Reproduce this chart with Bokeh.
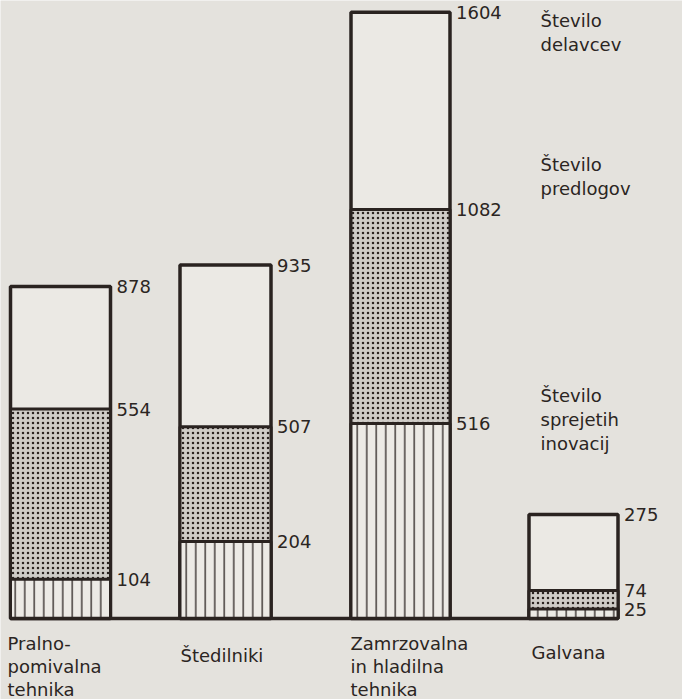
from bokeh.plotting import figure
from bokeh.models import Range1d, ColumnDataSource, Label
from bokeh.embed import file_html
from bokeh.resources import INLINE
from bokeh.core.properties import value

# ---- data ----
categories = ["Pralno-\npomivalna\ntehnika", "Štedilniki", "Zamrzovalna\nin hladilna\ntehnika", "Galvana"]
workers = [878, 935, 1604, 275]        # Število delavcev
proposals = [554, 507, 1082, 74]       # Število predlogov
innovations = [104, 204, 516, 25]      # Število sprejetih inovacij
legend_labels = ["Število\ndelavcev", "Število\npredlogov", "Število\nsprejetih\ninovacij"]

# ---- layout / style ----
W, H = 682, 699
bar_x = [60, 225, 400, 573]
bar_w = [100, 91, 99, 89]
BG = "#e4e2dd"
INK = "#2a2320"
TXT = "#2b2522"
FONT = "DejaVu Sans"
FS = "18px"

baseline_px = 81          # distance of the zero line from plot bottom
scale = 0.378             # px per unit
y0 = -baseline_px / scale
y1 = (H - baseline_px) / scale

p = figure(width=W, height=H, output_backend="svg", toolbar_location=None,
           x_range=Range1d(0, W), y_range=Range1d(y0, y1),
           min_border=0, background_fill_color=BG, border_fill_color=BG,
           outline_line_color=None)
p.axis.visible = False
p.grid.visible = False

right = [x + w / 2 for x, w in zip(bar_x, bar_w)]
src = ColumnDataSource(dict(x=bar_x, w=bar_w, workers=workers, proposals=proposals,
                            innovations=innovations, right=right))

p.vbar(x="x", width="w", top="workers", bottom=0, source=src,
       fill_color="#ebe9e4", line_color=INK, line_width=3.5)
p.vbar(x="x", width="w", top="proposals", bottom=0, source=src,
       fill_color="#cfccc7", hatch_pattern="dot", hatch_color=INK, hatch_scale=5,
       hatch_weight=4, line_color=INK, line_width=3)
p.vbar(x="x", width="w", top="innovations", bottom=0, source=src,
       fill_color="#eceae5", hatch_pattern="vertical_line", hatch_color=INK, hatch_scale=9.5,
       hatch_weight=1.3, line_color=INK, line_width=3)

# baseline
left_edge = bar_x[0] - bar_w[0] / 2
right_edge = bar_x[-1] + bar_w[-1] / 2
p.line([left_edge, right_edge], [0, 0], line_color=INK, line_width=3.5)

# value labels
for col in ["workers", "proposals", "innovations"]:
    p.text(x="right", y=col, text=col, source=ColumnDataSource(dict(
        right=right, **{col: src.data[col]},
    )), x_offset=6, text_baseline="middle", text_align="left",
        text_font=value(FONT), text_font_size=FS, text_color=TXT)

def add_lines(text, sx, top_img_y, step):
    for i, line in enumerate(text.split("\n")):
        iy = top_img_y + i * step
        p.add_layout(Label(x=sx, y=H - iy, x_units="screen", y_units="screen",
                           text=line, text_baseline="middle", text_align="left",
                           text_font=FONT, text_font_size=FS, text_color=TXT))

# category labels
cat_pos = [(7, 643), (180, 655), (350, 643), (531, 652)]
for c, (sx, iy) in zip(categories, cat_pos):
    add_lines(c, sx, iy, 23)

# legend texts
leg_pos = [(540, 20), (540, 164), (540, 395)]
for t, (sx, iy) in zip(legend_labels, leg_pos):
    add_lines(t, sx, iy, 24)

open("out.html", "w").write(file_html(p, INLINE))
